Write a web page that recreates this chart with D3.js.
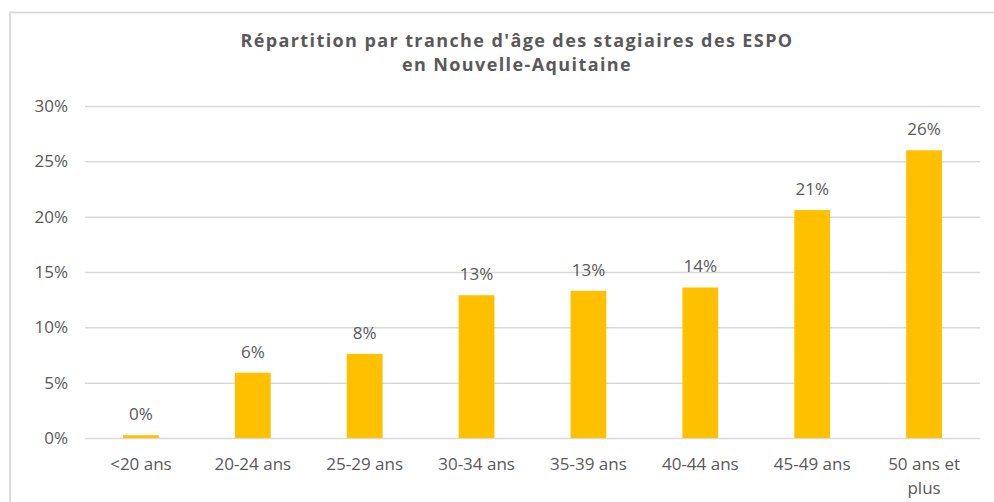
<!DOCTYPE html>
<html>
<head>
<meta charset="utf-8">
<script src="https://cdn.jsdelivr.net/npm/d3@7"></script>
<style>
  body { margin: 0; background: #fff; }
  svg text { font-family: "Open Sans", "Liberation Sans", sans-serif; fill: #595959; }
</style>
</head>
<body>
<div class="chart"></div>
<script>
// Chart data.
var categories = ["<20 ans", "20-24 ans", "25-29 ans", "30-34 ans", "35-39 ans", "40-44 ans", "45-49 ans", "50 ans et plus"];
var values = [0.0025, 0.059, 0.076, 0.129, 0.133, 0.136, 0.206, 0.260];
var yTicks = [0, 0.05, 0.10, 0.15, 0.20, 0.25, 0.30];
var titleLines = ["Répartition par tranche d'âge des stagiaires des ESPO", "en Nouvelle-Aquitaine"];

// Define SVG dimensions.
var w = 994,
    h = 502;

var plotLeft = 85, plotRight = 980, plotTop = 106, plotBottom = 438;

var svg = d3.select(".chart").append("svg")
  .attr("width", w)
  .attr("height", h);

// Outer frame.
svg.append("rect")
  .attr("x", 10)
  .attr("y", 12.5)
  .attr("width", 1000)
  .attr("height", 520)
  .attr("fill", "none")
  .attr("stroke", "#d9d9d9")
  .attr("stroke-width", 1.8);

var xScale = d3.scaleBand()
  .domain(categories)
  .range([plotLeft, plotRight])
  .paddingInner(0.68)
  .paddingOuter(0.34);

var yScale = d3.scaleLinear()
  .domain([0, 0.30])
  .range([plotBottom, plotTop]);

// Gridlines and y labels.
var yAxis = d3.axisLeft(yScale)
  .tickValues(yTicks)
  .tickFormat(d3.format(".0%"))
  .tickSize(-(plotRight - plotLeft))
  .tickPadding(17);

var gy = svg.append("g")
  .attr("transform", "translate(" + plotLeft + ",0)")
  .call(yAxis);
gy.select(".domain").remove();
gy.selectAll(".tick line")
  .attr("stroke", "#d9d9d9")
  .attr("stroke-width", 1.5);
gy.selectAll(".tick text")
  .style("font-size", "17px")
  .attr("fill", "#595959");

// Bars.
svg.selectAll("rect.bar")
  .data(values)
  .enter()
  .append("rect")
  .attr("class", "bar")
  .attr("x", function(d, i) { return xScale(categories[i]); })
  .attr("y", function(d) { return yScale(d); })
  .attr("width", xScale.bandwidth())
  .attr("height", function(d) { return plotBottom - yScale(d); })
  .attr("fill", "#ffc000");

// Value labels.
svg.selectAll("text.val")
  .data(values)
  .enter()
  .append("text")
  .attr("class", "val")
  .attr("x", function(d, i) { return xScale(categories[i]) + xScale.bandwidth() / 2; })
  .attr("y", function(d) { return yScale(d) - 15; })
  .attr("text-anchor", "middle")
  .style("font-size", "17px")
  .text(function(d) { return d3.format(".0%")(d); });

// Category labels (wrapped like the original).
var xAxis = d3.axisBottom(xScale).tickSize(0).tickPadding(0);
var gx = svg.append("g")
  .attr("transform", "translate(0," + plotBottom + ")")
  .call(xAxis);
gx.select(".domain").remove();
gx.selectAll(".tick text").remove();
gx.selectAll(".tick").each(function(d) {
  var lines = d === "50 ans et plus" ? ["50 ans et", "plus"] : [d];
  var t = d3.select(this).append("text")
    .attr("text-anchor", "middle")
    .style("font-size", "17px");
  lines.forEach(function(s, k) {
    t.append("tspan")
      .attr("x", 0)
      .attr("y", 32 + k * 24)
      .text(s);
  });
});

// Title.
svg.selectAll("text.title")
  .data(titleLines)
  .enter()
  .append("text")
  .attr("class", "title")
  .attr("x", 517)
  .attr("y", function(d, i) { return 47 + i * 24; })
  .attr("text-anchor", "middle")
  .style("font-size", "18px")
  .style("font-weight", "bold")
  .style("letter-spacing", "1.4px")
  .text(function(d) { return d; });
</script>
</body>
</html>
